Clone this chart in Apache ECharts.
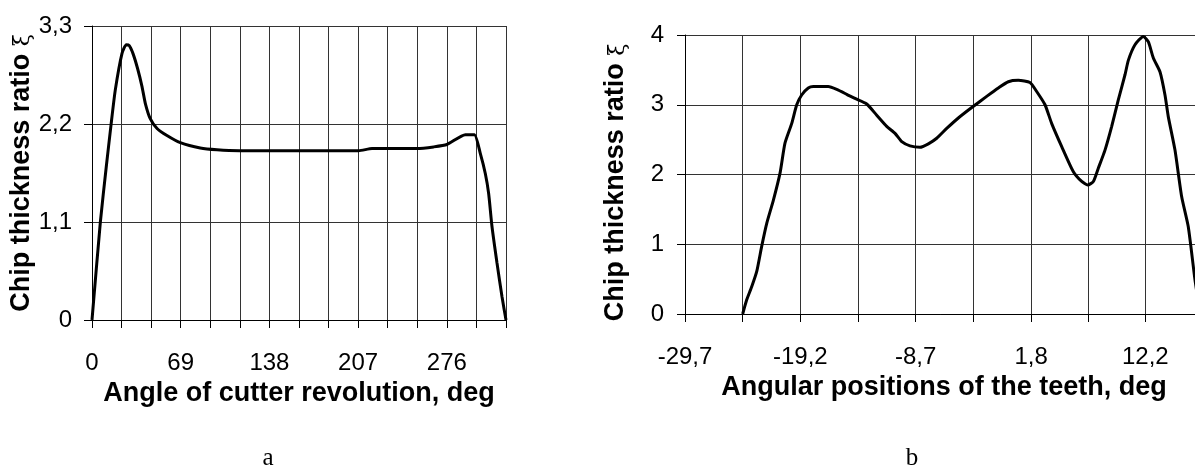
<!DOCTYPE html>
<html>
<head>
<meta charset="utf-8">
<script src="https://cdn.jsdelivr.net/npm/echarts@6/dist/echarts.min.js"></script>
<style>
  html, body { margin: 0; padding: 0; background: #fff; }
  #chart { width: 1195px; height: 473px; }
</style>
</head>
<body>
<div id="chart"></div>
<script>
// chart a: angle of cutter revolution (deg) vs chip thickness ratio
const angleA = [0, 6.5, 11.1, 14.8, 18.1, 23.3, 26.7, 29, 31.9, 35.5, 38.9, 41.5, 45.3, 50.6, 58.3, 68.7, 84.2, 97.2, 114.6,
  207.4, 217.8, 252.8, 265.7, 276.1, 290.4, 297.4, 302, 305.9, 308.5, 311.1, 315, 318.9, 322];
const ratioA = [0, 1.1, 1.72, 2.19, 2.58, 2.99, 3.09, 3.08, 2.99, 2.82, 2.62, 2.43, 2.26, 2.15, 2.07, 1.99, 1.93, 1.91, 1.9,
  1.9, 1.925, 1.925, 1.943, 1.97, 2.08, 2.08, 1.87, 1.645, 1.42, 1.05, 0.64, 0.26, 0];
const ticksA = [0, 69, 138, 207, 276];

// chart b: angular positions of the teeth (deg) vs chip thickness ratio
const angleB = [-24.45, -24.09, -23.63, -23.17, -22.72, -22.26, -21.66, -21.05, -20.6, -19.99, -19.53, -19.08, -18.48, -18.02,
  -16.66, -15.89, -14.98, -14.23, -13.16, -12.25, -11.34, -10.58, -9.97, -9.22, -8.31, -7.55, -6.79, -5.88, -4.82, -3.6,
  -2.24, -1.18, -0.27, 0.64, 1.7, 2.31, 3.07, 3.68, 4.59, 5.65, 6.41, 6.96, 7.47, 7.92, 8.53, 9.14, 9.74, 10.35, 10.66,
  11.26, 12.02, 12.48, 12.93, 13.54, 13.99, 14.29, 14.9, 15.51, 16.11, 16.72, 17.2];
const ratioB = [0, 0.2, 0.39, 0.61, 0.97, 1.3, 1.63, 2.02, 2.45, 2.73, 3.0, 3.14, 3.24, 3.26,
  3.26, 3.22, 3.15, 3.09, 3.01, 2.85, 2.69, 2.59, 2.47, 2.41, 2.39, 2.44, 2.52, 2.66, 2.81, 2.96,
  3.12, 3.24, 3.33, 3.35, 3.32, 3.19, 3.0, 2.73, 2.4, 2.04, 1.9, 1.85, 1.9, 2.09, 2.35, 2.69, 3.07, 3.43, 3.64,
  3.86, 3.98, 3.9, 3.67, 3.47, 3.14, 2.83, 2.35, 1.68, 1.25, 0.49, 0];
const gridTicksB = [-29.7, -24.45, -19.2, -13.95, -8.7, -3.45, 1.8, 7, 12.2, 17.45];
const labelTicksB = [-29.7, -19.2, -8.7, 1.8, 12.2];

const comma = (v) => String(v).replace('.', ',');
const tickFont = { fontFamily: 'Liberation Sans, Arial, sans-serif', fontSize: 24, color: '#000' };
const nameFont = { fontFamily: 'Liberation Sans, Arial, sans-serif', fontSize: 27, fontWeight: 'bold', color: '#000' };
const gridLine = { show: true, lineStyle: { color: '#333', width: 1 } };
const axisLine = { show: true, onZero: false, lineStyle: { color: '#000', width: 1 } };
const axisTick = { show: true, length: 8, lineStyle: { color: '#000' } };
const yName = 'Chip thickness ratio {x|ξ}';
const yRich = { x: { fontFamily: 'DejaVu Serif, serif', fontSize: 22, fontWeight: 'normal', color: '#000', verticalAlign: 'bottom' } };

const chart = echarts.init(document.getElementById('chart'), null, { renderer: 'canvas' });

chart.setOption({
  animation: false,
  backgroundColor: '#fff',
  grid: [
    { left: 92, top: 26, width: 414, height: 294, outerBoundsMode: 'none' },
    { left: 685, top: 35, width: 518, height: 279, outerBoundsMode: 'none' },
  ],
  xAxis: [
    {
      type: 'value', gridIndex: 0, min: 0, max: 322, interval: 23,
      name: 'Angle of cutter revolution, deg', nameLocation: 'middle', nameGap: 60,
      nameTextStyle: nameFont,
      axisLine: axisLine, axisTick: axisTick, splitLine: gridLine,
      axisLabel: { ...tickFont, margin: 31, customValues: ticksA, formatter: (v) => comma(v) },
    },
    {
      type: 'value', gridIndex: 1, min: -29.7, max: 17.45,
      name: 'Angular positions of the teeth, deg', nameLocation: 'middle', nameGap: 58,
      nameTextStyle: nameFont,
      axisLine: axisLine, axisTick: { ...axisTick, customValues: gridTicksB }, splitLine: gridLine,
      axisLabel: { ...tickFont, margin: 31, customValues: labelTicksB, formatter: (v) => comma(v) },
    },
  ],
  yAxis: [
    {
      type: 'value', gridIndex: 0, min: 0, max: 3.3, interval: 1.1,
      name: yName, nameLocation: 'middle', nameGap: 56,
      nameTextStyle: { ...nameFont, rich: yRich },
      axisLine: axisLine, axisTick: axisTick, splitLine: gridLine,
      axisLabel: { ...tickFont, margin: 20, formatter: (v) => (v === 0 ? '0' : comma(v.toFixed(1))) },
    },
    {
      type: 'value', gridIndex: 1, min: 0, max: 4, interval: 1,
      name: yName, nameLocation: 'middle', nameGap: 56,
      nameTextStyle: { ...nameFont, rich: yRich, padding: [0, 16, 0, 0] },
      axisLine: axisLine, axisTick: axisTick, splitLine: gridLine,
      axisLabel: { ...tickFont, margin: 21 },
    },
  ],
  graphic: [
    { type: 'text', x: 268, y: 458, style: { text: 'a', fontFamily: 'Liberation Serif, serif', fontSize: 25, fill: '#000', align: 'center', verticalAlign: 'middle' } },
    { type: 'text', x: 912, y: 458, style: { text: 'b', fontFamily: 'Liberation Serif, serif', fontSize: 25, fill: '#000', align: 'center', verticalAlign: 'middle' } },
  ],
  series: [
    {
      type: 'line', xAxisIndex: 0, yAxisIndex: 0, symbol: 'none', smooth: 0.2,
      lineStyle: { color: '#000', width: 3 },
      data: angleA.map((a, i) => [a, ratioA[i]]),
    },
    {
      type: 'line', xAxisIndex: 1, yAxisIndex: 1, symbol: 'none', smooth: 0.2,
      lineStyle: { color: '#000', width: 3 },
      data: angleB.map((a, i) => [a, ratioB[i]]),
    },
  ],
});
</script>
</body>
</html>
